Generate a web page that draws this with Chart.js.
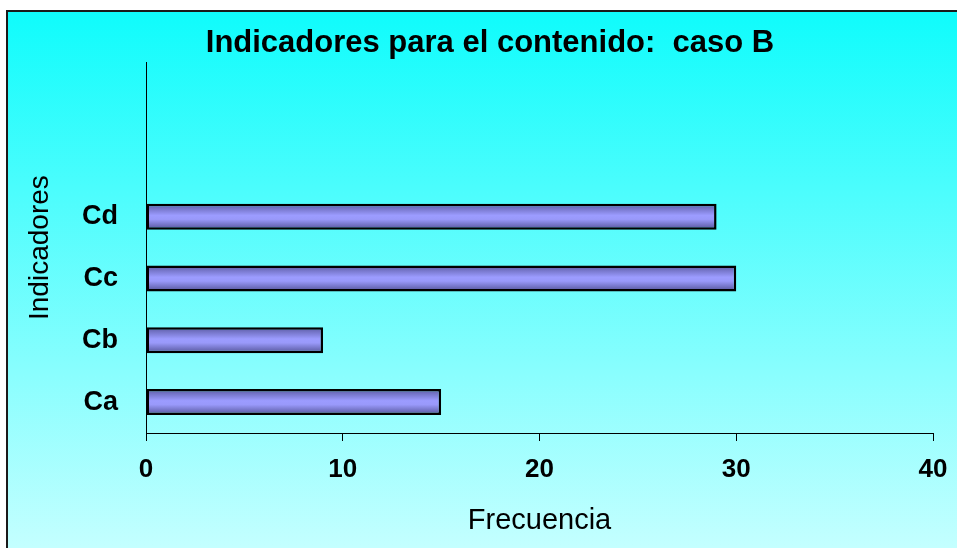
<!DOCTYPE html>
<html>
<head>
<meta charset="utf-8">
<script src="https://cdn.jsdelivr.net/npm/chart.js@4"></script>
<style>
  html, body { margin: 0; padding: 0; background: #fff; }
  #wrap { width: 957px; height: 548px; }
</style>
</head>
<body>
<div id="wrap"><canvas id="indChart" width="957" height="548"></canvas></div>
<script>
"use strict";

// datos
var categorias = ['Ca', 'Cb', 'Cc', 'Cd', '', ''];
var frecuencias = [15, 9, 30, 29, null, null];
var ticksX = [0, 10, 20, 30, 40];

var FONT = "'Liberation Sans', Arial, sans-serif";

// fondo con degradado y marco
var fondo = {
  id: 'fondo',
  beforeDraw: function (chart) {
    var ctx = chart.ctx;
    var w = chart.width, h = chart.height;
    ctx.save();
    ctx.fillStyle = '#ffffff';
    ctx.fillRect(0, 0, w, h);
    var g = ctx.createLinearGradient(0, 11, 0, h);
    g.addColorStop(0, '#0ffcfc');
    g.addColorStop(1, '#c4ffff');
    ctx.fillStyle = g;
    ctx.fillRect(7, 11, w - 7, h - 11);
    ctx.strokeStyle = '#1a1a1a';
    ctx.lineWidth = 2;
    ctx.beginPath();
    ctx.moveTo(7, h);
    ctx.lineTo(7, 11);
    ctx.lineTo(w, 11);
    ctx.stroke();
    ctx.restore();
  }
};

function barFill(context) {
  var chart = context.chart;
  var y = chart.scales.y;
  if (!y || !chart.chartArea) return '#9999ff';
  var py = y.getPixelForValue(context.dataIndex);
  var g = chart.ctx.createLinearGradient(0, py - 13, 0, py + 13);
  g.addColorStop(0, '#5a5aa2');
  g.addColorStop(0.45, '#9c9cff');
  g.addColorStop(0.6, '#9999fa');
  g.addColorStop(1, '#525296');
  return g;
}

var ctx = document.getElementById('indChart').getContext('2d');
var chart = new Chart(ctx, {
  type: 'bar',
  data: {
    labels: categorias,
    datasets: [{
      data: frecuencias,
      backgroundColor: barFill,
      borderColor: '#000000',
      borderWidth: 2.5,
      borderSkipped: false,
      categoryPercentage: 1,
      barPercentage: 0.42
    }]
  },
  plugins: [fondo],
  options: {
    responsive: false,
    animation: false,
    indexAxis: 'y',
    layout: {
      padding: { left: 47, right: 24, top: 20, bottom: 6 }
    },
    plugins: {
      legend: { display: false },
      tooltip: { enabled: false },
      title: {
        display: true,
        text: 'Indicadores para el contenido:  caso B',
        color: '#000',
        font: { family: FONT, size: 31, weight: 'bold' },
        padding: { top: 5, bottom: 0 }
      }
    },
    scales: {
      x: {
        type: 'linear',
        min: 0,
        max: 40,
        afterBuildTicks: function (axis) {
          axis.ticks = ticksX.map(function (v) { return { value: v }; });
        },
        afterFit: function (axis) {
          axis.height = 109;
          axis.paddingLeft = 0;
          axis.paddingRight = 0;
        },
        grid: {
          drawOnChartArea: false,
          drawTicks: true,
          tickLength: 8,
          color: '#000'
        },
        border: { display: true, color: '#000', width: 1 },
        ticks: {
          color: '#000',
          padding: 13,
          maxRotation: 0,
          font: { family: FONT, size: 26, weight: 'bold' }
        },
        title: {
          display: true,
          text: 'Frecuencia',
          color: '#000',
          font: { family: FONT, size: 29 },
          padding: { top: 4, bottom: 4 }
        }
      },
      y: {
        type: 'category',
        reverse: true,
        offset: true,
        afterFit: function (axis) { axis.width = 99; },
        grid: {
          drawOnChartArea: false,
          drawTicks: false,
          color: '#000'
        },
        border: { display: true, color: '#000', width: 1 },
        ticks: {
          color: '#000',
          padding: 28,
          font: { family: FONT, size: 27, weight: 'bold' }
        },
        title: {
          display: true,
          text: 'Indicadores',
          color: '#000',
          font: { family: FONT, size: 28 },
          padding: { top: -24, bottom: 4 }
        }
      }
    }
  }
});
</script>
</body>
</html>
